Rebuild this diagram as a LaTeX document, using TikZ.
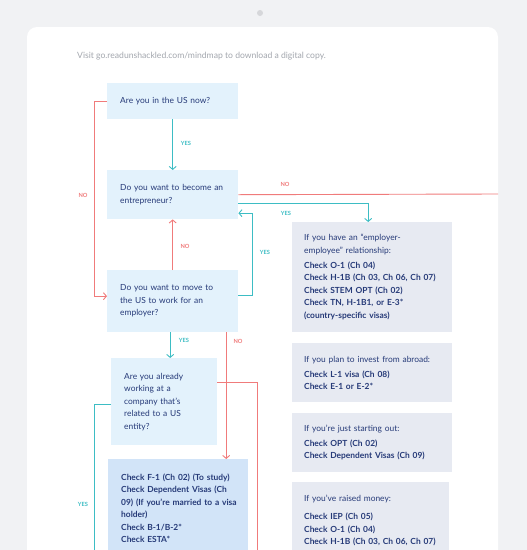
\documentclass[tikz,border=0pt]{standalone}
\usepackage{fontspec}
\setmainfont{Lato}
\usetikzlibrary{arrows.meta}
\definecolor{bgc}{HTML}{F1F2F4}
\definecolor{dotc}{HTML}{D6D7DA}
\definecolor{qblue}{HTML}{E3F2FC}
\definecolor{gboxc}{HTML}{E7EAF2}
\definecolor{dblue}{HTML}{D2E4F8}
\definecolor{navy}{HTML}{263A78}
\definecolor{tealc}{HTML}{3DBDC4}
\definecolor{redc}{HTML}{F07B7B}
\definecolor{urlgray}{HTML}{A3A7AE}
\begin{document}
\begin{tikzpicture}[x=1pt,y=-1pt,
  basefont/.style={text=navy, font=\fontsize{8.4}{12.5}\selectfont},
  qbox/.style={basefont, fill=qblue, inner xsep=13pt, inner ysep=0pt, align=left, anchor=north west},
  gbox/.style={basefont, fill=gboxc, inner xsep=12pt, inner ysep=0pt, align=left, anchor=north west},
  tl/.style={draw=tealc, line width=0.9pt},
  rd/.style={draw=redc, line width=0.9pt},
  arr/.style={-{Straight Barb[length=3pt,width=7pt,line width=0.9pt]}},
  yesl/.style={text=tealc, font=\fontsize{5.7}{6}\selectfont\bfseries, inner sep=0pt},
  nol/.style={text=redc, font=\fontsize{5.7}{6}\selectfont\bfseries, inner sep=0pt}]
\useasboundingbox (0,0) rectangle (527,550);
\clip (0,0) rectangle (527,550);
\fill[bgc] (0,0) rectangle (527,550);
\fill[dotc] (260,13) circle (3pt);
\fill[white, rounded corners=10pt] (27,27) rectangle (498,620);

\node[anchor=west, text=urlgray, font=\fontsize{8.6}{10}\selectfont, inner sep=0pt] (url) at (77,56)
  {Visit go.readunshackled.com/mindmap to download a digital copy.};

% question boxes
\node[qbox, minimum width=131pt, text width=105pt, minimum height=36pt] (b1) at (107,83)
  {Are you in the US now?};
\node[qbox, minimum width=131pt, text width=105pt, minimum height=49pt] (b2) at (107,170)
  {Do you want to become an\\entrepreneur?};
\node[qbox, minimum width=131pt, text width=105pt, minimum height=62pt] (b3) at (107,270)
  {Do you want to move to\\the US to work for an\\employer?};
\node[qbox, minimum width=106pt, text width=80pt, minimum height=87pt] (b8) at (111,358)
  {Are you already\\working at a\\company that’s\\related to a US\\entity?};

% result boxes
\node[gbox, minimum width=160pt, text width=136pt, minimum height=110pt] (b4) at (292,222)
  {If you have an “employer-\\employee” relationship:\\[2.5pt]
   \textbf{Check O-1 (Ch 04)}\\\textbf{Check H-1B (Ch 03, Ch 06, Ch 07)}\\
   \textbf{Check STEM OPT (Ch 02)}\\\textbf{Check TN, H-1B1, or E-3*}\\
   \textbf{(country-specific visas)}};
\node[gbox, minimum width=160pt, text width=136pt, minimum height=59pt] (b5) at (292,343)
  {If you plan to invest from abroad:\\[2.5pt]
   \textbf{Check L-1 visa (Ch 08)}\\\textbf{Check E-1 or E-2*}};
\node[gbox, minimum width=160pt, text width=136pt, minimum height=59pt] (b6) at (292,413)
  {If you’re just starting out:\\[2pt]
   \textbf{Check OPT (Ch 02)}\\\textbf{Check Dependent Visas (Ch 09)}};
\fill[gboxc] (292,482) rectangle (449,560);
\node[basefont, anchor=north west, inner xsep=12pt, inner ysep=12.5pt, align=left, text width=140pt] (b7) at (292,482)
  {If you’ve raised money:\\[6pt]
   \textbf{Check IEP (Ch 05)}\\\textbf{Check O-1 (Ch 04)}\\\textbf{Check H-1B (Ch 03, Ch 06, Ch 07)}};
\fill[dblue] (108,459) rectangle (248,560);
\node[basefont, anchor=north west, inner xsep=13pt, inner ysep=14.5pt, align=left, text width=126pt] (b9) at (108,459)
  {\textbf{Check F-1 (Ch 02) (To study)}\\\textbf{Check Dependent Visas (Ch}\\
   \textbf{09) (If you’re married to a visa}\\\textbf{holder)}\\
   \textbf{Check B-1/B-2*}\\\textbf{Check ESTA*}};

% free ends
\coordinate (edge) at (498,194);
\coordinate (bot1) at (257,560);
\coordinate (bot2) at (94,560);

% connectors
\draw[tl, arr] (b1.south) -- (b2.north);
\draw[rd, arr] (b1.west) -- ++(-13,0) |- ([yshift=5pt]b3.west);
\draw[rd, arr] (b3.north) -- (b2.south);
\draw[tl, arr] ([yshift=6pt]b3.east) -- ++(14,0) |- ([yshift=-18.5pt]b2.east);
\draw[rd] (b2.east) -- (edge);
\draw[tl, arr] ([yshift=-8.5pt]b2.east) -| ([xshift=-4pt]b4.north);
\draw[tl, arr] ([xshift=-2.5pt]b3.south) -- ([xshift=-2.5pt]b3.south |- b8.north);
\draw[rd, arr] ([xshift=53.5pt]b3.south) -- ([xshift=53.5pt]b3.south |- b9.north);
\draw[rd] ([yshift=19.5pt]b8.east) -| (bot1);
\draw[tl] ([yshift=-2.5pt]b8.west) -| (bot2);

% labels
\node[yesl] (y1) at (186,143) {YES};
\node[nol] (n1) at (83,195) {NO};
\node[nol] (n2) at (185,246) {NO};
\node[yesl] (y2) at (265,252) {YES};
\node[nol] (n3) at (285,184) {NO};
\node[yesl] (y3) at (286,213) {YES};
\node[yesl] (y4) at (184,340) {YES};
\node[nol] (n4) at (238,341) {NO};
\node[yesl] (y5) at (83,504) {YES};
\end{tikzpicture}
\end{document}
